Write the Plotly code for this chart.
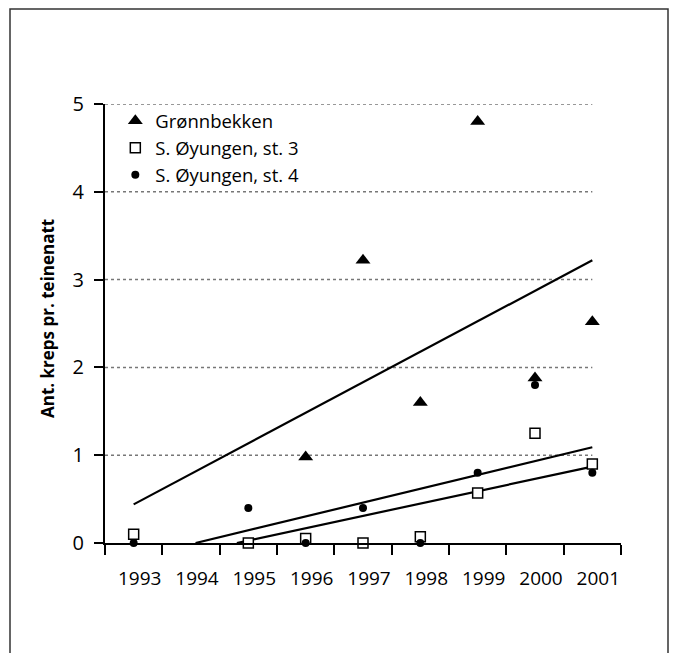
import plotly.graph_objects as go

years = [1993, 1994, 1995, 1996, 1997, 1998, 1999, 2000, 2001]
gronnbekken = [None, None, None, 0.98, 3.22, 1.6, 4.8, 1.88, 2.52]
oyungen_st3 = [0.1, None, 0.0, 0.05, 0.0, 0.07, 0.57, 1.25, 0.9]
oyungen_st4 = [0.0, None, 0.4, 0.0, 0.4, 0.0, 0.8, 1.8, 0.8]

trend_gr_x = [1993, 2001]
trend_gr_y = [0.44, 3.22]
trend_st4_x = [1994.08, 2001]
trend_st4_y = [0.0, 1.09]
trend_st3_x = [1994.8, 2001]
trend_st3_y = [0.0, 0.87]

y_ticks = [0, 1, 2, 3, 4, 5]
grid_levels = [1, 2, 3, 4, 5]

FONT = "Open Sans"

fig = go.Figure()

for tx, ty in [(trend_gr_x, trend_gr_y), (trend_st4_x, trend_st4_y), (trend_st3_x, trend_st3_y)]:
    fig.add_trace(go.Scatter(x=tx, y=ty, mode="lines", line=dict(color="black", width=2.2),
                             showlegend=False, hoverinfo="skip", cliponaxis=False))

fig.add_trace(go.Scatter(x=years, y=gronnbekken, mode="markers", name="Grønnbekken",
                         legendgroup="a", legendrank=1,
                         marker=dict(symbol="triangle-up", size=13, color="black"),
                         cliponaxis=False))
fig.add_trace(go.Scatter(x=years, y=oyungen_st3, mode="markers", name="S. Øyungen, st. 3",
                         legendgroup="b", legendrank=2,
                         marker=dict(symbol="square", size=10, color="white",
                                     line=dict(color="black", width=1.5)),
                         cliponaxis=False))
fig.add_trace(go.Scatter(x=years, y=oyungen_st4, mode="markers", name="S. Øyungen, st. 4",
                         legendgroup="c", legendrank=3,
                         marker=dict(symbol="circle", size=8, color="black"),
                         cliponaxis=False))

shapes = []
for g in grid_levels:
    shapes.append(dict(type="line", xref="x", yref="y", x0=1992.5, x1=2001, y0=g, y1=g,
                       line=dict(color="#777777", width=1.5, dash="dot"), layer="below"))
# outer frame
shapes.append(dict(type="rect", xref="paper", yref="paper",
                   x0=(10 - 105) / 516, x1=(668 - 105) / 516,
                   y0=(543 - 665) / 439, y1=(543 - 9) / 439,
                   line=dict(color="#333333", width=1.5)))

fig.update_layout(
    width=678, height=653,
    margin=dict(l=105, r=57, t=104, b=110),
    paper_bgcolor="white", plot_bgcolor="white",
    font=dict(family=FONT, size=18, color="black"),
    shapes=shapes,
    showlegend=True,
    legend=dict(x=0.02, y=1.004, xanchor="left", yanchor="top",
                bgcolor="rgba(0,0,0,0)", font=dict(size=18.5, family=FONT),
                tracegroupgap=0, traceorder="normal"),
    annotations=[dict(text="<b>Ant. kreps pr. teinenatt</b>", textangle=-90,
                      xref="paper", yref="paper", x=(47 - 105) / 516, y=(543 - 319) / 439,
                      showarrow=False, font=dict(size=17, family=FONT),
                      xanchor="center", yanchor="middle")],
)

fig.update_xaxes(range=[1992.5, 2001.5], tickvals=years, ticktext=[str(y) for y in years],
                 ticks="", showgrid=False, zeroline=False,
                 showline=True, linecolor="black", linewidth=2,
                 ticklabelshift=6, ticklabelstandoff=17,
                 tickfont=dict(size=19, family=FONT),
                 minor=dict(tickvals=[y - 0.5 for y in years] + [2001.5], ticks="outside",
                            ticklen=10, tickwidth=2, tickcolor="black", showgrid=False))
fig.update_yaxes(range=[0, 5], tickvals=y_ticks, ticks="outside", ticklen=9, tickwidth=2,
                 tickcolor="black", showgrid=False, zeroline=False,
                 showline=True, linecolor="black", linewidth=2,
                 ticklabelstandoff=6, tickfont=dict(size=20, family=FONT))

fig.write_html("out.html")
